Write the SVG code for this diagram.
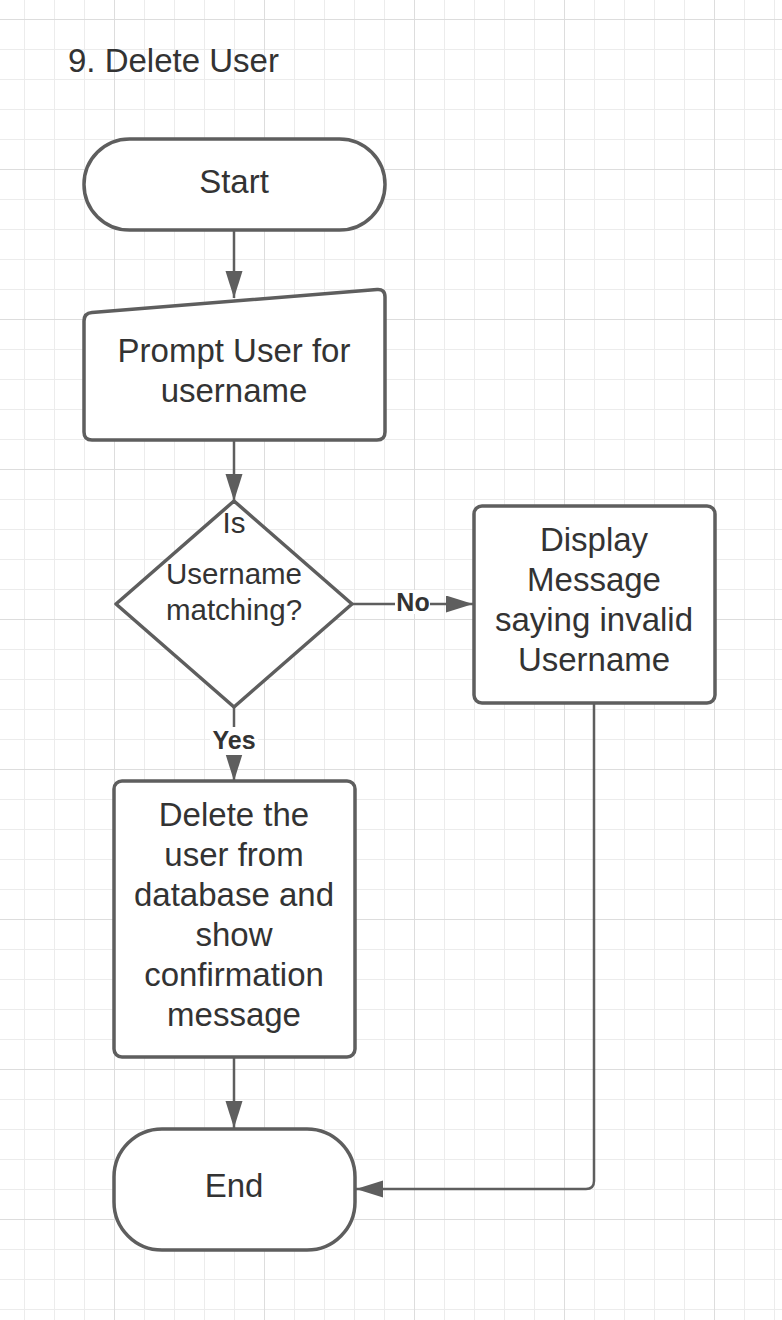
<svg xmlns="http://www.w3.org/2000/svg" width="782" height="1320" viewBox="0 0 782 1320">
  <defs>
    <pattern id="minor" patternUnits="userSpaceOnUse" x="24" y="19" width="30" height="30">
      <path d="M0,0.5 H30 M0.5,0 V30" fill="none" stroke="#ececec" stroke-width="1"/>
    </pattern>
    <pattern id="major" patternUnits="userSpaceOnUse" x="114" y="19" width="150" height="150">
      <path d="M0,0.5 H150 M0.5,0 V150" fill="none" stroke="#dddddd" stroke-width="1"/>
    </pattern>
    <marker id="arrow" markerUnits="userSpaceOnUse" markerWidth="28" markerHeight="18" refX="27" refY="8.5" orient="auto">
      <path d="M0,0 L27,8.5 L0,17 Z" fill="#5e5e5e"/>
    </marker>
  </defs>
  <style>
    .node { fill: #ffffff; stroke: #5e5e5e; stroke-width: 3.5; stroke-linejoin: round; }
    .txt { font-family: "Liberation Sans", Arial, sans-serif; font-size: 33px; fill: #333333; text-anchor: middle; }
    .dtxt { font-family: "Liberation Sans", Arial, sans-serif; font-size: 29.5px; fill: #333333; text-anchor: middle; }
    .title { font-family: "Liberation Sans", Arial, sans-serif; font-size: 33px; fill: #333333; }
    .conn { fill: none; stroke: #5e5e5e; stroke-width: 2.5; }
    .lbl { font-family: "Liberation Sans", Arial, sans-serif; font-size: 25px; font-weight: bold; fill: #333333; text-anchor: middle; }
  </style>

  <rect x="0" y="0" width="782" height="1320" fill="#ffffff"/>
  <rect x="0" y="0" width="782" height="1320" fill="url(#minor)"/>
  <rect x="0" y="0" width="782" height="1320" fill="url(#major)"/>

  <text class="title" x="68" y="72">9. Delete User</text>

  <g id="connectors">
    <path class="conn" d="M234,230 L234,298" marker-end="url(#arrow)"/>
    <path class="conn" d="M234,440 L234,501" marker-end="url(#arrow)"/>
    <path class="conn" d="M352,604 L473,604" marker-end="url(#arrow)"/>
    <path class="conn" d="M234,707 L234,781" marker-end="url(#arrow)"/>
    <path class="conn" d="M234,1057 L234,1128" marker-end="url(#arrow)"/>
    <path class="conn" d="M594,703 L594,1181 Q594,1189 586,1189 L356,1189" marker-end="url(#arrow)"/>
    <g id="label-no">
      <rect x="395" y="590" width="35" height="24" fill="#ffffff"/>
      <text class="lbl" x="413" y="611">No</text>
    </g>
    <g id="label-yes">
      <rect x="210" y="727" width="48" height="28" fill="#ffffff"/>
      <text class="lbl" x="234" y="749">Yes</text>
    </g>
  </g>

  <g id="start">
    <rect class="node" x="84" y="139" width="301" height="91" rx="45.5" ry="45.5"/>
    <text class="txt" x="234" y="193">Start</text>
  </g>

  <g id="prompt">
    <path class="node" d="M84,321 Q84,313 92,312.4 L377,289.6 Q385,289 385,297 L385,432 Q385,440 377,440 L92,440 Q84,440 84,432 Z"/>
    <text class="txt" x="234" y="362">Prompt User for</text>
    <text class="txt" x="234" y="402">username</text>
  </g>

  <g id="decision">
    <path class="node" d="M234,501 L352,604 L234,707 L116,604 Z"/>
    <text class="dtxt" x="234" y="533">Is</text>
    <text class="dtxt" x="234" y="584">Username</text>
    <text class="dtxt" x="234" y="620">matching?</text>
  </g>

  <g id="display">
    <rect class="node" x="474" y="506" width="241" height="197" rx="8" ry="8"/>
    <text class="txt" x="594" y="551">Display</text>
    <text class="txt" x="594" y="591">Message</text>
    <text class="txt" x="594" y="631">saying invalid</text>
    <text class="txt" x="594" y="671">Username</text>
  </g>

  <g id="delete">
    <rect class="node" x="114" y="781" width="241" height="276" rx="8" ry="8"/>
    <text class="txt" x="234" y="826">Delete the</text>
    <text class="txt" x="234" y="866">user from</text>
    <text class="txt" x="234" y="906">database and</text>
    <text class="txt" x="234" y="946">show</text>
    <text class="txt" x="234" y="986">confirmation</text>
    <text class="txt" x="234" y="1026">message</text>
  </g>

  <g id="end">
    <rect class="node" x="114" y="1129" width="241" height="121" rx="48" ry="48"/>
    <text class="txt" x="234" y="1197">End</text>
  </g>
</svg>
